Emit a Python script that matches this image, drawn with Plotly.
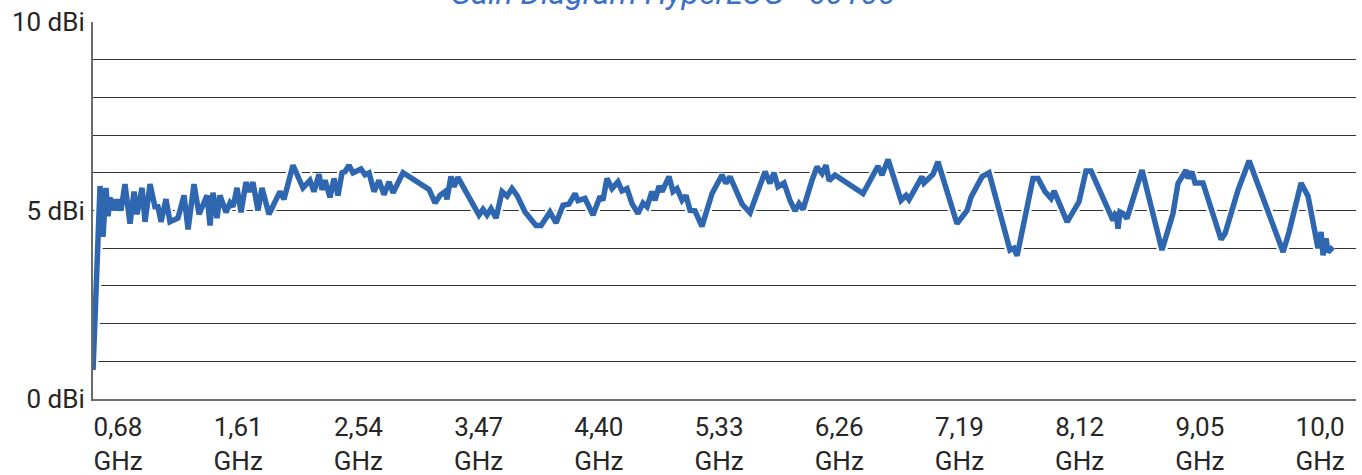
import plotly.graph_objects as go

# Frequency (GHz) and gain (dBi)
freq_ghz = [
    0.487, 0.541, 0.564, 0.587, 0.603, 0.618, 0.634, 0.649, 0.665, 0.680,
    0.703, 0.734, 0.773, 0.804, 0.827, 0.866, 0.889, 0.928, 0.966, 0.989,
    1.013, 1.051, 1.082, 1.113, 1.144, 1.191, 1.222, 1.268, 1.307, 1.345,
    1.369, 1.392, 1.415, 1.446, 1.469, 1.516, 1.547, 1.570, 1.601, 1.632,
    1.670, 1.694, 1.724, 1.763, 1.794, 1.848, 1.910, 1.933, 1.964, 2.034,
    2.111, 2.165, 2.196, 2.235, 2.258, 2.282, 2.320, 2.351, 2.382, 2.413,
    2.436, 2.467, 2.498, 2.560, 2.591, 2.622, 2.661, 2.699, 2.738, 2.777,
    2.808, 2.885, 3.086, 3.133, 3.171, 3.210, 3.225, 3.256, 3.280, 3.310,
    3.473, 3.504, 3.535, 3.566, 3.605, 3.651, 3.690, 3.728, 3.767, 3.829,
    3.914, 3.953, 4.022, 4.069, 4.123, 4.169, 4.216, 4.239, 4.293, 4.355,
    4.409, 4.432, 4.463, 4.502, 4.548, 4.579, 4.618, 4.657, 4.703, 4.742,
    4.773, 4.811, 4.835, 4.866, 4.889, 4.943, 4.974, 5.005, 5.044, 5.075,
    5.106, 5.144, 5.198, 5.276, 5.353, 5.384, 5.415, 5.508, 5.570, 5.639,
    5.686, 5.724, 5.755, 5.786, 5.833, 5.879, 5.918, 5.949, 5.980, 6.049,
    6.088, 6.127, 6.158, 6.181, 6.227, 6.444, 6.560, 6.591, 6.638, 6.738,
    6.777, 6.800, 6.900, 6.916, 6.985, 7.024, 7.171, 7.249, 7.280, 7.365,
    7.419, 7.581, 7.612, 7.636, 7.759, 7.798, 7.852, 7.899, 7.922, 8.023,
    8.115, 8.169, 8.208, 8.378, 8.401, 8.417, 8.432, 8.455, 8.486, 8.603,
    8.680, 8.757, 8.842, 8.881, 8.943, 8.958, 8.989, 9.013, 9.074, 9.214,
    9.245, 9.345, 9.431, 9.694, 9.740, 9.833, 9.887, 9.964, 9.988, 10.003,
    10.026, 10.042, 10.080,
]
gain_dbi = [
    0.77, 5.65, 4.30, 5.60, 4.85, 5.35, 5.00, 5.30, 5.00, 5.30,
    5.00, 5.70, 4.65, 5.50, 4.90, 5.60, 4.70, 5.70, 5.10, 5.10,
    4.70, 5.30, 4.70, 4.75, 4.80, 5.40, 4.50, 5.70, 4.90, 5.20,
    5.40, 4.60, 5.47, 4.80, 5.40, 4.95, 5.20, 5.10, 5.60, 4.95,
    5.75, 5.50, 5.75, 5.00, 5.60, 4.90, 5.35, 5.50, 5.30, 6.20,
    5.60, 5.80, 5.50, 5.96, 5.55, 5.80, 5.35, 5.85, 5.40, 6.00,
    6.03, 6.20, 6.00, 6.10, 5.95, 6.00, 5.50, 5.80, 5.42, 5.76,
    5.47, 6.00, 5.56, 5.20, 5.40, 5.50, 5.30, 5.90, 5.63, 5.88,
    4.88, 5.03, 4.88, 5.05, 4.80, 5.50, 5.38, 5.58, 5.40, 4.96,
    4.60, 4.60, 4.96, 4.67, 5.14, 5.17, 5.45, 5.26, 5.32, 4.88,
    5.37, 5.27, 5.85, 5.58, 5.76, 5.52, 5.58, 5.18, 4.92, 5.20,
    5.10, 5.50, 5.27, 5.65, 5.50, 5.90, 5.50, 5.58, 5.27, 5.40,
    5.00, 4.99, 4.58, 5.45, 5.94, 5.72, 5.90, 5.17, 4.94, 5.54,
    6.03, 5.72, 6.00, 5.63, 5.73, 5.27, 4.99, 5.18, 5.03, 5.80,
    6.16, 5.98, 6.20, 5.79, 5.94, 5.45, 6.18, 5.94, 6.35, 5.27,
    5.40, 5.29, 5.90, 5.73, 5.96, 6.29, 4.65, 5.00, 5.36, 5.90,
    6.00, 3.95, 4.00, 3.80, 5.85, 5.85, 5.50, 5.32, 5.52, 4.70,
    5.23, 6.05, 6.05, 4.74, 4.96, 4.52, 4.96, 4.92, 4.79, 6.07,
    5.00, 3.95, 4.92, 5.72, 6.07, 5.85, 6.03, 5.73, 5.73, 4.23,
    4.39, 5.54, 6.32, 3.90, 4.43, 5.73, 5.38, 4.00, 4.43, 3.81,
    4.26, 3.90, 4.03,
]

tick_freqs = [0.68, 1.61, 2.54, 3.47, 4.40, 5.33, 6.26, 7.19, 8.12, 9.05, 9.98]
tick_labels = ["0,68", "1,61", "2,54", "3,47", "4,40", "5,33", "6,26",
               "7,19", "8,12", "9,05", "10,0"]
y_tick_vals = [0, 5, 10]
y_tick_labels = ["0 dBi", "5 dBi", "10 dBi"]
title_text = "Gain Diagram HyperLOG - 60100"

LINE_BLUE = "#2E66B0"
TEXT = "#262626"

fig = go.Figure()
fig.add_trace(go.Scatter(x=freq_ghz, y=gain_dbi, mode="lines",
                         line=dict(color="white", width=10),
                         hoverinfo="skip", showlegend=False))
fig.add_trace(go.Scatter(x=freq_ghz, y=gain_dbi, mode="lines",
                         line=dict(color=LINE_BLUE, width=5.5),
                         showlegend=False))

fig.update_layout(
    width=1362, height=475,
    margin=dict(l=93, r=6, t=22, b=76, autoexpand=False),
    paper_bgcolor="white", plot_bgcolor="white",
    font=dict(family="Roboto", size=26, color=TEXT),
    xaxis=dict(
        range=[0.4866, 10.258],
        tickmode="array",
        tickvals=tick_freqs,
        ticktext=[t + "<br>GHz" for t in tick_labels],
        showgrid=False, zeroline=False,
        showline=True, linecolor="#6b6b6b", linewidth=2,
        ticks="", ticklabelstandoff=4, automargin=False,
        tickfont=dict(family="Roboto", size=26, color=TEXT),
    ),
    yaxis=dict(
        range=[0, 10],
        tickmode="array",
        tickvals=y_tick_vals,
        ticktext=y_tick_labels,
        showgrid=True, gridcolor="#333333", gridwidth=1.2,
        minor=dict(tickmode="linear", tick0=0, dtick=1, showgrid=True,
                   gridcolor="#333333", gridwidth=1.2, ticks=""),
        zeroline=False,
        showline=True, linecolor="#6b6b6b", linewidth=2,
        ticks="", ticklabelstandoff=1, automargin=False,
        tickfont=dict(family="Roboto", size=26, color=TEXT),
    ),
    annotations=[dict(
        text=title_text, xref="paper", yref="paper",
        x=0.459, y=1.02, xanchor="center", yanchor="bottom",
        showarrow=False,
        font=dict(family="Roboto", size=32, color="#3B70C4", style="italic"),
    )],
)

fig.write_html("out.html",
               config={"displayModeBar": False},
               post_script="document.body.style.margin='0';"
                           "document.body.style.padding='0';")
